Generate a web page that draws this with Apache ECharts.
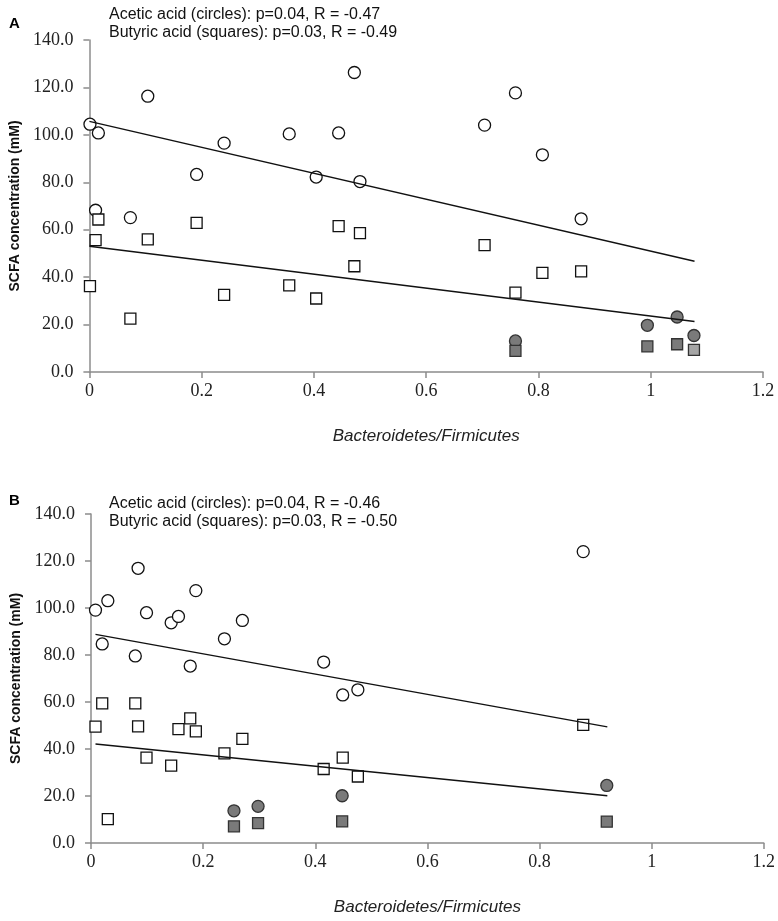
<!DOCTYPE html>
<html><head><meta charset="utf-8">
<script src="https://cdn.jsdelivr.net/npm/echarts@6/dist/echarts.min.js"></script>
<style>html,body{margin:0;padding:0;background:#fff}#c{width:778px;height:921px}</style>
</head><body><div id="c"></div>
<script>
// ---------- Panel A data ----------
const aOpenCircles = [[0.001,104.5],[0.016,100.8],[0.104,116.3],[0.011,68.2],[0.073,65.1],[0.191,83.3],[0.240,96.5],[0.356,100.4],[0.404,82.2],[0.444,100.8],[0.472,126.3],[0.482,80.3],[0.704,104.1],[0.759,117.7],[0.807,91.6],[0.876,64.6]];
const aFilledCircles = [[0.759,13.1],[0.994,19.7],[1.047,23.2],[1.077,15.4]];
const aOpenSquares = [[0.016,64.3],[0.011,55.6],[0.001,36.2],[0.073,22.5],[0.104,55.9],[0.191,62.9],[0.240,32.5],[0.356,36.5],[0.404,31.0],[0.444,61.5],[0.472,44.6],[0.482,58.6],[0.704,53.5],[0.759,33.5],[0.807,41.8],[0.876,42.4]];
const aFilledSquares = [[0.759,8.9],[0.994,10.8],[1.047,11.7]];
const aLightSquares = [[1.077,9.3]];
const aTrendCircles = [[0.0,105.7],[1.078,46.7]];
const aTrendSquares = [[0.0,53.0],[1.078,21.3]];
const aNotes = ['Acetic acid (circles): p=0.04, R = -0.47','Butyric acid (squares): p=0.03, R = -0.49'];

// ---------- Panel B data ----------
const bOpenCircles = [[0.008,99.1],[0.030,103.1],[0.020,84.7],[0.084,116.9],[0.099,98.0],[0.079,79.6],[0.143,93.7],[0.156,96.4],[0.187,107.4],[0.177,75.3],[0.238,86.9],[0.270,94.7],[0.415,77.0],[0.449,63.0],[0.476,65.2],[0.878,124.0]];
const bFilledCircles = [[0.255,13.7],[0.298,15.6],[0.448,20.1],[0.920,24.5]];
const bOpenSquares = [[0.020,59.4],[0.008,49.5],[0.030,10.2],[0.079,59.4],[0.084,49.6],[0.099,36.3],[0.143,32.9],[0.156,48.5],[0.177,53.0],[0.187,47.5],[0.238,38.1],[0.270,44.3],[0.415,31.5],[0.449,36.3],[0.476,28.3],[0.878,50.3]];
const bFilledSquares = [[0.255,7.1],[0.298,8.5],[0.448,9.2],[0.920,9.1]];
const bTrendCircles = [[0.008,88.8],[0.921,49.4]];
const bTrendSquares = [[0.008,42.1],[0.921,20.1]];
const bNotes = ['Acetic acid (circles): p=0.04, R = -0.46','Butyric acid (squares): p=0.03, R = -0.50'];

// ---------- Axes ----------
const xTickLabels = ['0','0.2','0.4','0.6','0.8','1','1.2'];
const yTickLabels = ['0.0','20.0','40.0','60.0','80.0','100.0','120.0','140.0'];
const xName = 'Bacteroidetes/Firmicutes';
const yName = 'SCFA concentration (mM)';
const panelLabels = ['A','B'];

const chart = echarts.init(document.getElementById('c'), null, {renderer:'canvas'});
const axisGray = '#8c8c8c';
const tickFont = {fontFamily:'Liberation Serif', fontSize:18, color:'#222'};

function xAxis(gi){
  return {type:'value', gridIndex:gi, min:0, max:1.2, interval:0.2,
    name:xName, nameLocation:'middle', nameGap:56,
    nameTextStyle:{fontFamily:'Liberation Sans', fontStyle:'italic', fontSize:17, color:'#222'},
    axisLine:{show:true, lineStyle:{color:axisGray, width:1.5}},
    axisTick:{show:true, length:6, lineStyle:{color:axisGray, width:1.5}},
    splitLine:{show:false},
    axisLabel:Object.assign({margin:10, formatter:(v)=>xTickLabels[Math.round(v/0.2)]}, tickFont)};
}
function yAxis(gi){
  return {type:'value', gridIndex:gi, min:0, max:140, interval:20,
    name:yName, nameLocation:'middle', nameGap:66,
    nameTextStyle:{fontFamily:'Liberation Sans', fontWeight:'bold', fontSize:14, color:'#111'},
    axisLine:{show:true, lineStyle:{color:axisGray, width:1.5}},
    axisTick:{show:true, length:6, lineStyle:{color:axisGray, width:1.5}},
    splitLine:{show:false},
    axisLabel:Object.assign({margin:16, formatter:(v)=>yTickLabels[Math.round(v/20)]}, tickFont)};
}
function scatter(gi, data, symbol, fill, border){
  return {type:'scatter', xAxisIndex:gi, yAxisIndex:gi, data:data, symbol:symbol,
    symbolSize:symbol==='circle'?12:11, z:3,
    itemStyle:{color:fill, borderColor:border, borderWidth:1.3, opacity:1},
    emphasis:{disabled:true}, silent:true};
}
function trend(gi, data){
  return {type:'line', xAxisIndex:gi, yAxisIndex:gi, data:data, symbol:'none', z:4,
    lineStyle:{color:'#111', width:1.4}, silent:true};
}
function notes(lines, top){
  return {type:'text', left:109, top:top,
    style:{text:lines.join('\n'), font:'16px "Liberation Sans"', lineHeight:18, fill:'#111'}};
}

chart.setOption({
  animation:false,
  grid:[{left:88, top:40, width:675, height:332},{left:91, top:514, width:673, height:329}],
  xAxis:[xAxis(0), xAxis(1)],
  yAxis:[yAxis(0), yAxis(1)],
  series:[
    scatter(0, aOpenCircles, 'circle', '#ffffff', '#111'),
    scatter(0, aFilledCircles, 'circle', '#7a7a7a', '#333'),
    scatter(0, aOpenSquares, 'rect', '#ffffff', '#111'),
    scatter(0, aFilledSquares, 'rect', '#7a7a7a', '#333'),
    scatter(0, aLightSquares, 'rect', '#a6a6a6', '#333'),
    trend(0, aTrendCircles), trend(0, aTrendSquares),
    scatter(1, bOpenCircles, 'circle', '#ffffff', '#111'),
    scatter(1, bFilledCircles, 'circle', '#7a7a7a', '#333'),
    scatter(1, bOpenSquares, 'rect', '#ffffff', '#111'),
    scatter(1, bFilledSquares, 'rect', '#7a7a7a', '#333'),
    trend(1, bTrendCircles), trend(1, bTrendSquares)
  ],
  graphic:[
    {type:'text', left:9, top:16, style:{text:panelLabels[0], font:'bold 15px "Liberation Sans"', fill:'#000'}},
    {type:'text', left:9, top:493, style:{text:panelLabels[1], font:'bold 15px "Liberation Sans"', fill:'#000'}},
    notes(aNotes, 6),
    notes(bNotes, 495)
  ]
});
</script></body></html>
